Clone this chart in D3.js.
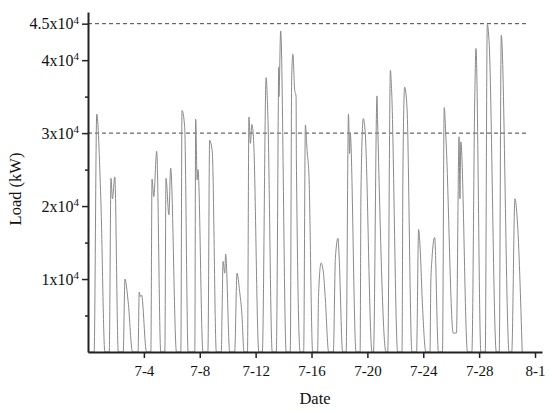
<!DOCTYPE html>
<html>
<head>
<meta charset="utf-8">
<script src="https://cdn.jsdelivr.net/npm/d3@7"></script>
<style>
  body { margin: 0; background: #fff; }
  text { font-family: "Liberation Serif", "Times New Roman", serif; fill: #111; }
</style>
</head>
<body>
<div class="chart"></div>
<script>
// Hours counted from 6-30 00:00, and the load (kW) at those hours
var hours = [
    0, 10.5, 15, 22, 29,
    36.5, 39.5, 42, 46, 52,
    60.5, 63.5, 69, 76.5,
    86, 88, 90, 92, 100.5,
    108, 110, 113, 118, 125,
    132, 134, 139, 142, 152,
    159.5, 161.5, 166, 172,
    183.5, 185, 187.5, 189, 197.5,
    206, 209, 213.5, 220.5,
    229, 230.5, 232, 235, 236.5, 243.5,
    252, 256, 260.5, 264.5, 268,
    274, 276.5, 279, 281.5, 284.5, 293.5,
    299.5, 306, 309, 316.5,
    323.5, 327, 327.5, 328, 331, 340.5,
    347.5, 350, 352, 355, 357.5, 358, 364.5,
    370.5, 373.5, 376.5, 379.5, 386,
    394.5, 396, 400.5, 404.5, 407.5, 413.5,
    421.5, 425, 429.5, 431.5, 437.5,
    443.5, 447.5, 449.5, 450.5, 460.5,
    467.5, 469, 473, 476, 488,
    490.5, 496.5, 497.5, 512,
    515, 519.5, 521.5, 532,
    539.5, 541, 544, 548, 556.5,
    564.5, 568, 570.5, 575, 580.5,
    587.5, 589, 591, 595.5, 602,
    609, 612, 615, 627.5, 633,
    637.5, 639, 640.5, 652,
    659.5, 664.5, 666.5, 675,
    682.5, 686, 689, 701.5,
    706.5, 710, 723.5,
    728, 733.5, 737.5, 746
];
var loadKW = [
    0, 0, 32600, 21000, 0,
    0, 23800, 21000, 24000, 0,
    0, 10000, 6900, 0,
    0, 8200, 7600, 7800, 0,
    0, 23700, 21300, 27500, 0,
    0, 23800, 18800, 25200, 0,
    0, 33100, 31000, 0,
    0, 31900, 23600, 25000, 0,
    0, 29000, 27400, 0,
    0, 6200, 12400, 10800, 13400, 0,
    0, 10800, 8300, 5100, 0,
    0, 32200, 28600, 31200, 29000, 0,
    0, 37600, 32500, 0,
    0, 34000, 39000, 35000, 44000, 0,
    0, 37900, 40800, 36000, 35000, 26500, 0,
    0, 31100, 27500, 24500, 0,
    0, 7600, 12200, 10800, 7600, 0,
    0, 12800, 15600, 13000, 0,
    0, 32600, 27200, 30000, 0,
    0, 22200, 32000, 30400, 0,
    0, 35100, 31800, 0,
    0, 38600, 36100, 0,
    0, 24000, 36300, 33600, 0,
    0, 16800, 14400, 5800, 0,
    0, 9600, 12800, 15700, 0,
    0, 33500, 29300, 2600, 2600,
    29500, 21000, 28800, 0,
    0, 35000, 41600, 0,
    0, 44900, 42700, 0,
    0, 43400, 0,
    0, 21000, 18200, 0
];

var xTickLabels = ["7-4", "7-8", "7-12", "7-16", "7-20", "7-24", "7-28", "8-1"];
var yMajorTicks = [10000, 20000, 30000, 40000, 45000];
var yTickMantissa = ["1", "2", "3", "4", "4.5"];
var yMinorTicks = [5000, 15000, 25000, 35000];
var refLines = [45000, 30000];

var width = 550,
    height = 411;
var padLeft = 88, padRight = 542, padTop = 12, padBottom = 352;

var start = new Date(2019, 5, 30);
var atHour = (h) => { return new Date(start.getTime() + h * 3600000) };
var parseDay = d3.timeParse("%Y-%m-%d");

var data = hours.map((h, i) => { return { t: atHour(h), v: loadKW[i] } });

var xScale = d3.scaleTime()
    .domain([start, atHour(24 * 32 + 12)])
    .range([padLeft, padRight]);

var yScale = d3.scaleLinear()
    .domain([0, 46600])
    .range([padBottom, padTop]);

var svg = d3.select(".chart")
    .append("svg")
    .attr("width", width)
    .attr("height", height)

// dashed reference levels
svg.selectAll("line.ref")
    .data(refLines)
    .enter()
    .append("line")
    .attr("class", "ref")
    .attr("x1", padLeft)
    .attr("x2", xScale(atHour(24 * 31 + 10)))
    .attr("y1", (d) => { return yScale(d) })
    .attr("y2", (d) => { return yScale(d) })
    .attr("stroke", "#444")
    .attr("stroke-width", 1)
    .attr("stroke-dasharray", "4,3")

// load curve
var line = d3.line()
    .x((d) => { return xScale(d.t) })
    .y((d) => { return yScale(d.v) })
    .curve(d3.curveMonotoneX)

svg.append("path")
    .datum(data)
    .attr("d", line)
    .attr("fill", "none")
    .attr("stroke", "#8a8a8a")
    .attr("stroke-width", 1)

// x axis
var xAxis = svg.append("g")
    .attr("transform", "translate(0," + padBottom + ")")
    .call(d3.axisBottom(xScale)
        .tickValues(xTickLabels.map((s) => { return parseDay("2019-" + s) }))
        .tickFormat(d3.timeFormat("%-m-%-d"))
        .tickSizeInner(6)
        .tickSizeOuter(0)
        .tickPadding(7))

xAxis.selectAll("text").attr("font-size", "15px").attr("fill", "#111")

// y axis, minor ticks first
svg.append("g")
    .attr("transform", "translate(" + padLeft + ",0)")
    .call(d3.axisLeft(yScale)
        .tickValues(yMinorTicks)
        .tickFormat("")
        .tickSizeInner(3)
        .tickSizeOuter(0))
    .select(".domain").remove()

var yAxis = svg.append("g")
    .attr("transform", "translate(" + padLeft + ",0)")
    .call(d3.axisLeft(yScale)
        .tickValues(yMajorTicks)
        .tickFormat("")
        .tickSizeInner(6)
        .tickSizeOuter(0)
        .tickPadding(3))

yAxis.selectAll(".tick text")
    .attr("font-size", "16px")
    .attr("fill", "#111")
    .each(function (d, i) {
        var t = d3.select(this)
        t.append("tspan").text(yTickMantissa[i] + "x10")
        t.append("tspan").text("4").attr("font-size", "11px").attr("dy", "-0.5em")
    })

svg.selectAll(".domain").attr("stroke", "#222").attr("stroke-width", 2)
svg.selectAll(".tick line").attr("stroke", "#222").attr("stroke-width", 1.5)

// axis titles
svg.append("text")
    .text("Date")
    .attr("x", (padLeft + padRight) / 2)
    .attr("y", 404)
    .attr("text-anchor", "middle")
    .attr("font-size", "16.5px")

svg.append("text")
    .text("Load (kW)")
    .attr("transform", "translate(21,189) rotate(-90)")
    .attr("text-anchor", "middle")
    .attr("font-size", "16.5px")
</script>
</body>
</html>
